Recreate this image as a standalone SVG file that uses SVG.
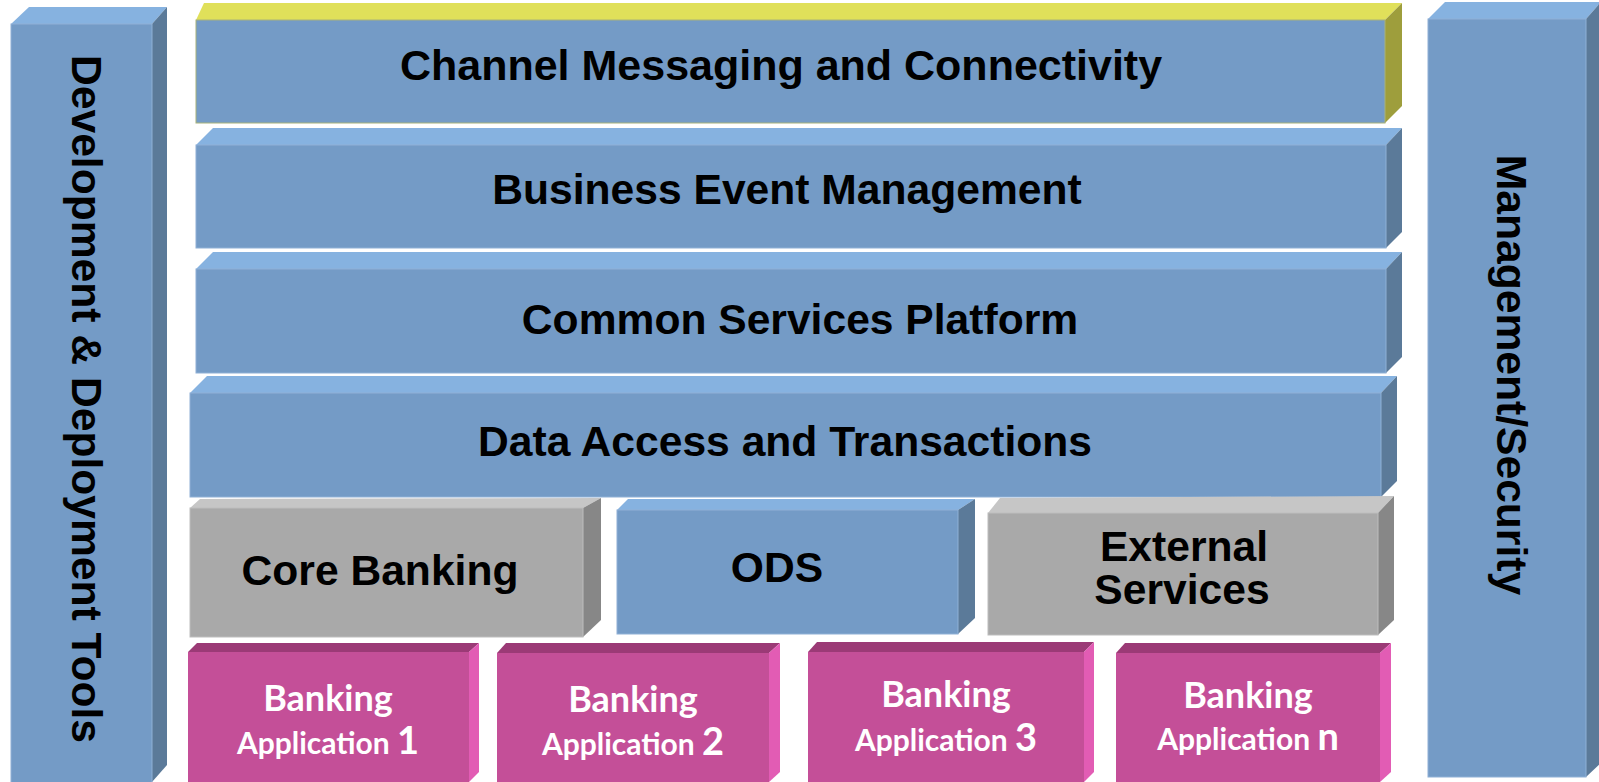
<svg xmlns="http://www.w3.org/2000/svg" width="1599" height="782" viewBox="0 0 1599 782">
<style>
.bf{fill:#749BC6;stroke:#8FB0D6;stroke-width:1}
.bt{fill:#86B2E0}
.bs{fill:#5B7A99}
.gf{fill:#A9A9A9;stroke:#BDBDBD;stroke-width:1}
.gt{fill:#C6C6C6}
.gs{fill:#878787}
.pf{fill:#C44F98}
.pt{fill:#9B3A76}
.ps{fill:#E25CB4}
.yt{fill:#E0E05A}
.ys{fill:#9E9E3C}
.lbl{font-family:"Liberation Sans",Arial,sans-serif;font-weight:bold;font-size:42.6px;fill:#000;text-anchor:middle}
.app{font-family:Lato,"Open Sans",sans-serif;font-weight:bold;fill:#fff;text-anchor:middle}
</style>
<rect width="1599" height="782" fill="#fff"/>

<g id="dev-tools">
<polygon class="bt" points="11,24 29,7 167,7 152,24"/>
<polygon class="bs" points="152,24 167,7 167,765 152,782"/>
<rect class="bf" x="11" y="24" width="141" height="760"/>
<text class="lbl" transform="translate(72,399) rotate(90)">Development &amp; Deployment Tools</text>
</g>

<g id="management-security">
<polygon class="bt" points="1428,19 1445,2 1601,2 1586,19"/>
<polygon class="bs" points="1586,19 1601,2 1601,763 1586,777"/>
<rect class="bf" x="1428" y="19" width="158" height="758"/>
<text class="lbl" transform="translate(1497,375) rotate(90)">Management/Security</text>
</g>

<g id="channel-messaging">
<polygon class="yt" points="196,20 204,3 1402,3 1385,20"/>
<polygon class="ys" points="1385,20 1402,3 1402,106 1385,123"/>
<rect class="bf" x="196" y="20" width="1189" height="103" style="stroke:#A8B27A"/>
<text class="lbl" x="781" y="80" style="font-size:43px">Channel Messaging and Connectivity</text>
</g>

<g id="business-event">
<polygon class="bt" points="196,145 213,128 1402,128 1386,145"/>
<polygon class="bs" points="1386,145 1402,128 1402,232 1386,248"/>
<rect class="bf" x="196" y="145" width="1190" height="103"/>
<text class="lbl" x="787" y="204">Business Event Management</text>
</g>

<g id="common-services">
<polygon class="bt" points="196,269 213,252 1402,252 1386,269"/>
<polygon class="bs" points="1386,269 1402,252 1402,357 1386,373"/>
<rect class="bf" x="196" y="269" width="1190" height="104"/>
<text class="lbl" x="800" y="334">Common Services Platform</text>
</g>

<g id="data-access">
<polygon class="bt" points="190,393 207,376 1397,376 1381,393"/>
<polygon class="bs" points="1381,393 1397,376 1397,481 1381,497"/>
<rect class="bf" x="190" y="393" width="1191" height="104"/>
<text class="lbl" x="785" y="456">Data Access and Transactions</text>
</g>

<g id="core-banking">
<polygon class="gt" points="190,508 200,499 601,498 583,508"/>
<polygon class="gs" points="583,508 601,498 601,620 583,637"/>
<rect class="gf" x="190" y="508" width="393" height="129"/>
<text class="lbl" x="380" y="585">Core Banking</text>
</g>

<g id="ods">
<polygon class="bt" points="617,510 628,499 975,499 958,510"/>
<polygon class="bs" points="958,510 975,499 975,618 958,634"/>
<rect class="bf" x="617" y="510" width="341" height="124"/>
<text class="lbl" x="777" y="582">ODS</text>
</g>

<g id="external-services">
<polygon class="gt" points="988,513 1000,498 1394,496 1378,513"/>
<polygon class="gs" points="1378,513 1394,496 1394,620 1378,635"/>
<rect class="gf" x="988" y="513" width="390" height="122"/>
<text class="lbl" x="1184" y="561">External</text>
<text class="lbl" x="1182" y="604">Services</text>
</g>

<g id="banking-app-1">
<polygon class="pt" points="188,652 197,643 479,643 469,652"/>
<polygon class="ps" points="469,652 479,643 479,772 469,782"/>
<rect class="pf" x="188" y="652" width="281" height="130"/>
<text class="app" x="328" y="711" font-size="36">Banking</text>
<text class="app" x="328" y="754" font-size="30">Application <tspan font-size="38">1</tspan></text>
</g>

<g id="banking-app-2">
<polygon class="pt" points="497,653 506,643 780,643 769,653"/>
<polygon class="ps" points="769,653 780,643 780,772 769,782"/>
<rect class="pf" x="497" y="653" width="272" height="129"/>
<text class="app" x="633" y="712" font-size="36">Banking</text>
<text class="app" x="633" y="755" font-size="30">Application <tspan font-size="38">2</tspan></text>
</g>

<g id="banking-app-3">
<polygon class="pt" points="808,652 817,642 1094,642 1084,652"/>
<polygon class="ps" points="1084,652 1094,642 1094,772 1084,782"/>
<rect class="pf" x="808" y="652" width="276" height="130"/>
<text class="app" x="946" y="707" font-size="36">Banking</text>
<text class="app" x="946" y="751" font-size="30">Application <tspan font-size="38">3</tspan></text>
</g>

<g id="banking-app-n">
<polygon class="pt" points="1116,653 1125,643 1391,643 1380,653"/>
<polygon class="ps" points="1380,653 1391,643 1391,772 1380,782"/>
<rect class="pf" x="1116" y="653" width="264" height="129"/>
<text class="app" x="1248" y="708" font-size="36">Banking</text>
<text class="app" x="1248" y="750" font-size="30">Application <tspan font-size="38">n</tspan></text>
</g>
</svg>
